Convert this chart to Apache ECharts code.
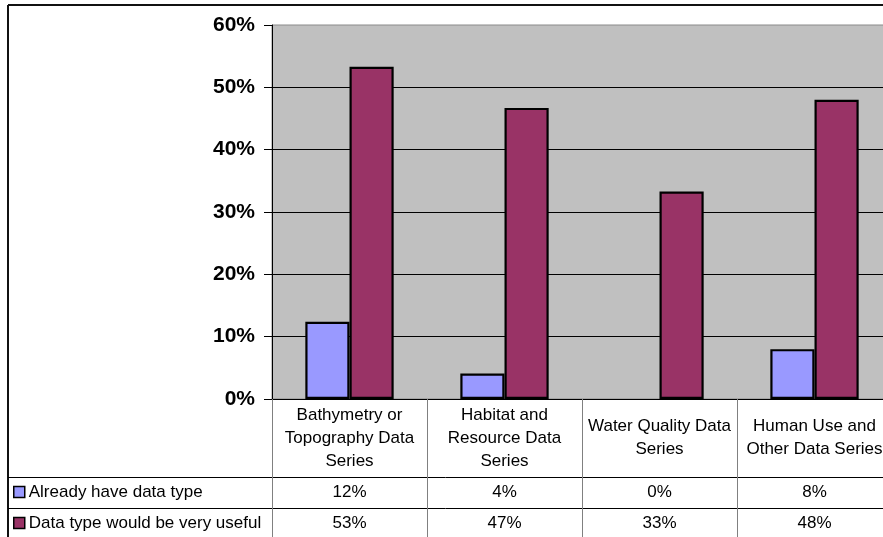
<!DOCTYPE html>
<html>
<head>
<meta charset="utf-8">
<script src="https://cdn.jsdelivr.net/npm/echarts@6/dist/echarts.min.js"></script>
<style>
  html, body { margin: 0; padding: 0; background: #fff; }
  #chart { width: 883px; height: 537px; }
</style>
</head>
<body>
<div id="chart"></div>
<script>
// Survey results: share of respondents per data type
const categories = [
  'Bathymetry or\nTopography Data\nSeries',
  'Habitat and\nResource Data\nSeries',
  'Water Quality Data\nSeries',
  'Human Use and\nOther Data Series'
];
const seriesNames = ['Already have data type', 'Data type would be very useful'];
const alreadyHave = [0.124, 0.041, 0, 0.08];
const veryUseful = [0.533, 0.467, 0.333, 0.48];
const seriesColors = ['#9999ff', '#993366'];

const FONT = '"Liberation Sans", Arial, sans-serif';
const pct = v => Math.round(v * 100) + '%';

// Plot area and data-table geometry
const GRID = { left: 272, top: 25, width: 620, height: 374 };
const ROW1_MID = 93;   // distance from axis to centre of first value row
const ROW2_MID = 124;  // distance from axis to centre of second value row
const axisY = GRID.top + GRID.height;

// zero-height bars get no outline so they leave no stroke on the axis
const barData = values => values.map(v => v === 0 ? { value: v, itemStyle: { borderWidth: 0 } } : v);

const chart = echarts.init(document.getElementById('chart'), null, { renderer: 'canvas' });

function valueRowAxis(values, margin) {
  return {
    type: 'category',
    gridIndex: 0,
    position: 'bottom',
    data: values.map(pct),
    axisLine: { show: false },
    axisTick: { show: false },
    axisLabel: {
      interval: 0,
      margin: margin,
      verticalAlign: 'middle',
      fontFamily: FONT,
      fontSize: 17,
      color: '#000'
    }
  };
}

chart.setOption({
  animation: false,
  backgroundColor: '#fff',
  textStyle: { fontFamily: FONT },
  grid: {
    left: GRID.left, top: GRID.top, width: GRID.width, height: GRID.height,
    outerBoundsMode: 'none',
    containLabel: false,
    show: true, backgroundColor: '#c0c0c0', borderColor: '#8a8a8a', borderWidth: 1
  },
  legend: {
    orient: 'vertical',
    left: 13,
    top: axisY + ROW1_MID - 10,
    padding: 0,
    itemGap: 11,
    itemWidth: 11,
    itemHeight: 11,
    icon: 'rect',
    itemStyle: { borderColor: '#000', borderWidth: 1.5 },
    textStyle: { fontFamily: FONT, fontSize: 17, color: '#000', lineHeight: 20, padding: [0, 0, 0, -1] },
    data: seriesNames
  },
  xAxis: [
    {
      type: 'category',
      gridIndex: 0,
      position: 'bottom',
      data: categories,
      axisLine: { show: true, lineStyle: { color: '#000', width: 1 } },
      axisTick: { show: true, length: 140, lineStyle: { color: '#808080', width: 1 } },
      axisLabel: {
        interval: 0,
        margin: 39,
        verticalAlign: 'middle',
        fontFamily: FONT,
        fontSize: 17,
        lineHeight: 23,
        color: '#000'
      },
      splitLine: { show: false }
    },
    valueRowAxis(alreadyHave, ROW1_MID),
    valueRowAxis(veryUseful, ROW2_MID)
  ],
  yAxis: {
    type: 'value',
    min: 0,
    max: 0.6,
    interval: 0.1,
    axisLine: { show: true, lineStyle: { color: '#000', width: 1 } },
    axisTick: { show: true, length: 8, lineStyle: { color: '#000' } },
    axisLabel: {
      formatter: pct,
      margin: 17,
      fontFamily: FONT,
      fontSize: 21,
      fontWeight: 'bold',
      color: '#000'
    },
    splitLine: { show: true, showMaxLine: false, lineStyle: { color: '#000', width: 1 } }
  },
  series: [
    {
      name: seriesNames[0],
      type: 'bar',
      xAxisIndex: 0,
      data: barData(alreadyHave),
      barGap: '0%',
      barCategoryGap: '43%',
      itemStyle: { color: seriesColors[0], borderColor: '#000', borderWidth: 2.2 }
    },
    {
      name: seriesNames[1],
      type: 'bar',
      xAxisIndex: 0,
      data: barData(veryUseful),
      barGap: '0%',
      barCategoryGap: '43%',
      itemStyle: { color: seriesColors[1], borderColor: '#000', borderWidth: 2.2 }
    }
  ],
  graphic: [
    // chart frame (top and left edges)
    { type: 'line', silent: true, shape: { x1: 8, y1: 5, x2: 883, y2: 5 }, style: { stroke: '#111', lineWidth: 2 } },
    { type: 'line', silent: true, shape: { x1: 8, y1: 5, x2: 8, y2: 537 }, style: { stroke: '#111', lineWidth: 2 } },
    // data-table row separators
    { type: 'line', silent: true, shape: { x1: 8, y1: axisY + 78.5, x2: 883, y2: axisY + 78.5 }, style: { stroke: '#000', lineWidth: 1 } },
    { type: 'line', silent: true, shape: { x1: 8, y1: axisY + 109.5, x2: 883, y2: axisY + 109.5 }, style: { stroke: '#000', lineWidth: 1 } }
  ]
});
</script>
</body>
</html>
